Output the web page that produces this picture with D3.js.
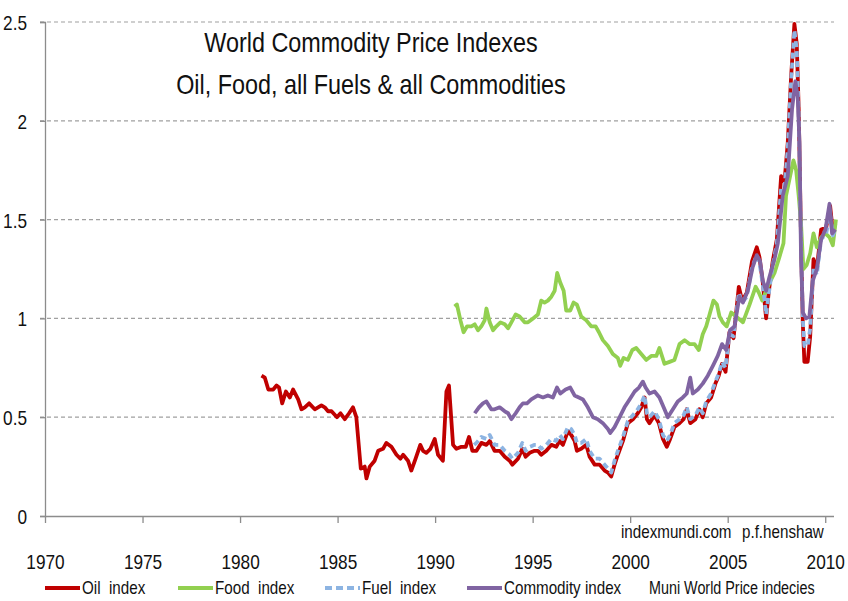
<!DOCTYPE html>
<html>
<head>
<meta charset="utf-8">
<script src="https://cdn.jsdelivr.net/npm/d3@7"></script>
<style>
  body { margin: 0; background: #fff; }
  svg { display: block; }
  text { font-family: "Liberation Sans", Arial, sans-serif; fill: #111; white-space: pre; }
</style>
</head>
<body>
<svg width="848" height="601"></svg>
<script>
// series: [year, index]
var oil_data = [
  [1981.1,0.71],[1981.27,0.70],[1981.45,0.64],[1981.7,0.64],[1981.87,0.66],[1982.0,0.65],[1982.16,0.57],[1982.35,0.63],
  [1982.55,0.60],[1982.72,0.64],[1982.98,0.59],[1983.15,0.54],[1983.32,0.55],[1983.54,0.57],[1983.83,0.54],[1984.17,0.56],
  [1984.34,0.55],[1984.51,0.53],[1984.69,0.53],[1984.97,0.50],[1985.15,0.52],[1985.37,0.49],[1985.59,0.52],[1985.79,0.55],
  [1985.96,0.50],[1986.19,0.24],[1986.39,0.25],[1986.48,0.19],[1986.65,0.25],[1986.9,0.28],[1987.08,0.33],[1987.33,0.34],
  [1987.5,0.37],[1987.76,0.35],[1988.02,0.31],[1988.22,0.29],[1988.36,0.31],[1988.61,0.28],[1988.78,0.23],[1989.0,0.29],
  [1989.24,0.36],[1989.38,0.33],[1989.55,0.32],[1989.76,0.34],[1989.98,0.39],[1990.15,0.31],[1990.4,0.28],[1990.58,0.63],
  [1990.71,0.66],[1990.92,0.36],[1991.09,0.34],[1991.35,0.35],[1991.57,0.35],[1991.74,0.40],[1991.91,0.33],[1992.12,0.33],
  [1992.37,0.37],[1992.63,0.36],[1992.8,0.38],[1993.05,0.33],[1993.31,0.33],[1993.57,0.30],[1993.82,0.28],[1993.96,0.26],
  [1994.25,0.29],[1994.47,0.34],[1994.64,0.30],[1994.85,0.32],[1995.1,0.33],[1995.27,0.33],[1995.44,0.31],[1995.7,0.33],
  [1995.96,0.36],[1996.21,0.35],[1996.38,0.38],[1996.55,0.36],[1996.81,0.43],[1996.98,0.41],[1997.15,0.38],[1997.27,0.33],
  [1997.49,0.34],[1997.75,0.36],[1997.92,0.30],[1998.18,0.26],[1998.43,0.26],[1998.69,0.23],[1998.86,0.22],[1999.03,0.20],
  [1999.2,0.26],[1999.37,0.31],[1999.63,0.38],[1999.88,0.47],[2000.14,0.49],[2000.39,0.52],[2000.57,0.55],[2000.74,0.60],
  [2000.86,0.49],[2000.99,0.47],[2001.25,0.51],[2001.47,0.47],[2001.68,0.39],[2001.88,0.35],[2002.05,0.39],[2002.27,0.45],
  [2002.53,0.47],[2002.74,0.49],[2002.9,0.54],[2003.08,0.47],[2003.35,0.49],[2003.55,0.54],[2003.72,0.50],[2003.9,0.57],
  [2004.15,0.60],[2004.37,0.67],[2004.54,0.71],[2004.71,0.77],[2004.89,0.73],[2005.09,0.93],[2005.3,0.90],[2005.57,1.16],
  [2005.74,1.09],[2005.98,1.13],[2006.25,1.29],[2006.49,1.36],[2006.63,1.31],[2006.8,1.18],[2006.97,1.00],[2007.1,1.13],
  [2007.31,1.29],[2007.52,1.40],[2007.74,1.72],[2007.91,1.69],[2008.08,1.89],[2008.25,2.22],[2008.42,2.49],[2008.54,2.39],
  [2008.64,2.06],[2008.76,1.40],[2008.85,0.98],[2008.93,0.78],[2009.1,0.78],[2009.23,0.91],[2009.4,1.30],[2009.57,1.25],
  [2009.79,1.45],[2010.05,1.46],[2010.25,1.57],[2010.39,1.44],[2010.52,1.48]
];

var food_data = [
  [1991.0,1.06],[1991.12,1.07],[1991.3,0.99],[1991.46,0.93],[1991.64,0.96],[1991.86,0.96],[1992.03,0.97],[1992.2,0.94],
  [1992.37,0.96],[1992.54,0.99],[1992.63,1.05],[1992.8,0.98],[1992.97,0.94],[1993.14,0.96],[1993.35,0.98],[1993.57,0.97],
  [1993.74,0.95],[1993.91,0.98],[1994.13,1.02],[1994.33,1.01],[1994.59,0.98],[1994.76,0.98],[1995.02,1.00],[1995.27,1.02],
  [1995.44,1.09],[1995.61,1.08],[1995.78,1.09],[1995.96,1.11],[1996.13,1.14],[1996.26,1.23],[1996.42,1.18],[1996.59,1.14],
  [1996.72,1.04],[1996.93,1.04],[1997.1,1.08],[1997.27,1.07],[1997.49,1.01],[1997.75,0.99],[1998.0,0.96],[1998.23,0.96],
  [1998.4,0.93],[1998.6,0.89],[1998.86,0.86],[1999.11,0.82],[1999.37,0.80],[1999.49,0.76],[1999.66,0.80],[1999.88,0.79],
  [2000.11,0.84],[2000.31,0.85],[2000.57,0.82],[2000.83,0.79],[2001.08,0.81],[2001.34,0.81],[2001.5,0.85],[2001.76,0.77],
  [2002.02,0.78],[2002.27,0.79],[2002.53,0.87],[2002.79,0.89],[2003.04,0.87],[2003.3,0.87],[2003.52,0.84],[2003.72,0.92],
  [2003.9,0.96],[2004.07,1.02],[2004.27,1.09],[2004.45,1.07],[2004.58,1.01],[2004.75,0.98],[2004.95,0.96],[2005.18,1.03],
  [2005.43,1.01],[2005.78,0.98],[2006.12,1.07],[2006.43,1.16],[2006.6,1.13],[2006.77,1.09],[2006.97,1.14],[2007.14,1.18],
  [2007.4,1.23],[2007.65,1.31],[2007.86,1.38],[2007.99,1.62],[2008.2,1.72],[2008.37,1.80],[2008.51,1.75],[2008.64,1.62],
  [2008.76,1.48],[2008.88,1.25],[2009.05,1.27],[2009.23,1.33],[2009.4,1.43],[2009.57,1.36],[2009.79,1.41],[2010.01,1.43],
  [2010.22,1.41],[2010.39,1.37],[2010.55,1.50]
];

var fuel_data = [
  [1992.0,0.36],[1992.12,0.37],[1992.37,0.40],[1992.63,0.39],[1992.8,0.41],[1993.05,0.36],[1993.31,0.36],[1993.57,0.33],
  [1993.82,0.31],[1993.96,0.29],[1994.25,0.32],[1994.47,0.37],[1994.64,0.33],[1994.85,0.35],[1995.1,0.36],[1995.27,0.36],
  [1995.44,0.34],[1995.7,0.36],[1995.96,0.39],[1996.21,0.38],[1996.38,0.41],[1996.55,0.39],[1996.81,0.45],[1996.98,0.44],
  [1997.15,0.41],[1997.27,0.37],[1997.49,0.37],[1997.75,0.39],[1997.92,0.33],[1998.18,0.29],[1998.43,0.29],[1998.69,0.26],
  [1998.86,0.24],[1999.03,0.22],[1999.2,0.28],[1999.37,0.33],[1999.63,0.40],[1999.88,0.48],[2000.14,0.51],[2000.39,0.54],
  [2000.57,0.57],[2000.74,0.61],[2000.86,0.52],[2000.99,0.50],[2001.25,0.53],[2001.47,0.49],[2001.68,0.41],[2001.88,0.38],
  [2002.05,0.41],[2002.27,0.47],[2002.53,0.49],[2002.74,0.51],[2002.9,0.55],[2003.08,0.49],[2003.35,0.51],[2003.55,0.55],
  [2003.72,0.52],[2003.9,0.58],[2004.15,0.62],[2004.37,0.68],[2004.54,0.72],[2004.71,0.78],[2004.89,0.75],[2005.09,0.92],
  [2005.3,0.91],[2005.57,1.13],[2005.74,1.08],[2005.98,1.11],[2006.25,1.26],[2006.49,1.32],[2006.63,1.28],[2006.8,1.17],
  [2006.97,1.02],[2007.1,1.12],[2007.31,1.27],[2007.52,1.38],[2007.74,1.66],[2007.91,1.66],[2008.08,1.86],[2008.25,2.20],
  [2008.42,2.46],[2008.54,2.36],[2008.64,2.03],[2008.76,1.38],[2008.85,1.00],[2008.93,0.86],[2009.1,0.86],[2009.23,0.95],
  [2009.4,1.26],[2009.57,1.22],[2009.79,1.40],[2010.05,1.43],[2010.25,1.53],[2010.39,1.42],[2010.52,1.45]
];

var commodity_data = [
  [1992.03,0.52],[1992.25,0.55],[1992.45,0.57],[1992.63,0.58],[1992.88,0.54],[1993.05,0.54],[1993.31,0.55],[1993.57,0.53],
  [1993.74,0.52],[1993.91,0.49],[1994.13,0.52],[1994.33,0.55],[1994.5,0.57],[1994.71,0.57],[1994.93,0.59],[1995.27,0.61],
  [1995.53,0.60],[1995.78,0.61],[1996.04,0.60],[1996.25,0.65],[1996.42,0.62],[1996.69,0.64],[1996.93,0.65],[1997.15,0.61],
  [1997.37,0.60],[1997.58,0.59],[1997.83,0.55],[1998.09,0.50],[1998.34,0.49],[1998.6,0.47],[1998.86,0.44],[1998.98,0.42],
  [1999.2,0.45],[1999.46,0.50],[1999.71,0.55],[1999.97,0.59],[2000.23,0.63],[2000.45,0.65],[2000.65,0.68],[2000.79,0.65],
  [2000.99,0.62],[2001.25,0.63],[2001.5,0.60],[2001.76,0.54],[2001.93,0.50],[2002.19,0.54],[2002.44,0.58],[2002.7,0.60],
  [2002.9,0.62],[2003.08,0.70],[2003.21,0.62],[2003.47,0.64],[2003.72,0.67],[2003.98,0.71],[2004.24,0.76],[2004.49,0.81],
  [2004.71,0.87],[2004.92,0.84],[2005.12,0.94],[2005.35,0.96],[2005.6,1.11],[2005.78,1.08],[2006.03,1.14],[2006.28,1.26],
  [2006.49,1.32],[2006.66,1.29],[2006.8,1.19],[2006.97,1.14],[2007.14,1.21],[2007.4,1.30],[2007.57,1.38],[2007.82,1.62],
  [2008.08,1.72],[2008.3,2.06],[2008.47,2.20],[2008.59,2.12],[2008.68,1.89],[2008.76,1.31],[2008.85,1.03],[2009.02,1.00],
  [2009.19,1.01],[2009.36,1.19],[2009.57,1.25],[2009.79,1.40],[2010.01,1.45],[2010.22,1.58],[2010.35,1.43],[2010.52,1.45]
];

var year_ticks = [1970, 1975, 1980, 1985, 1990, 1995, 2000, 2005, 2010];
var value_ticks = [0, 0.5, 1, 1.5, 2, 2.5];
var legend_names = ["Oil  index", "Food  index", "Fuel  index", "Commodity index"];
var title_lines = ["World Commodity Price Indexes", "Oil, Food, all Fuels & all Commodities"];

var svg = d3.select("svg");

var x = d3.scaleLinear().domain([1970, 2010.45]).range([45, 834]);
var y = d3.scaleLinear().domain([0, 2.5]).range([516, 22]);

// dashed gridlines
svg.append("g")
  .selectAll("line")
  .data(value_ticks.filter(d => d > 0))
  .join("line")
  .attr("x1", 40).attr("x2", 834)
  .attr("y1", d => y(d)).attr("y2", d => y(d))
  .attr("stroke", "#a0a0a0")
  .attr("stroke-width", 1.2)
  .attr("stroke-dasharray", "4,3");

// axes
var yAxis = svg.append("g")
  .attr("transform", "translate(45,0)")
  .call(d3.axisLeft(y).tickValues(value_ticks).tickSize(5).tickPadding(13).tickFormat(d3.format("")));
var xAxis = svg.append("g")
  .attr("transform", "translate(0,516)")
  .call(d3.axisBottom(x).tickValues(year_ticks).tickSize(7).tickPadding(31).tickFormat(d3.format("d")));

[yAxis, xAxis].forEach(function(a) {
  a.select(".domain").attr("stroke", "#8c8c8c").attr("stroke-width", 1.3);
  a.selectAll(".tick line").attr("stroke", "#8c8c8c").attr("stroke-width", 1.3);
  a.selectAll("text").attr("font-size", 21).attr("font-family", null).attr("fill", "#111");
});
yAxis.selectAll("text").attr("dy", "0.36em");
xAxis.select(".domain").attr("d", "M45,0.5H834");

// the lines
var line = d3.line().x(d => x(d[0])).y(d => y(d[1]));

var series = [
  { data: oil_data, color: "#c00000", dash: null },
  { data: food_data, color: "#92d050", dash: null },
  { data: fuel_data, color: "#8db4e2", dash: "6,4" },
  { data: commodity_data, color: "#8064a2", dash: null }
];

svg.append("g")
  .selectAll("path")
  .data(series)
  .join("path")
  .attr("d", d => line(d.data))
  .attr("fill", "none")
  .attr("stroke", d => d.color)
  .attr("stroke-width", 3.8)
  .attr("stroke-linejoin", "round")
  .attr("stroke-dasharray", d => d.dash);

// title
svg.append("g")
  .selectAll("text")
  .data(title_lines)
  .join("text")
  .attr("x", 371)
  .attr("y", (d, i) => 52 + i * 42)
  .attr("text-anchor", "middle")
  .attr("font-size", 28.5)
  .text(d => d);

// source notes
svg.append("text").attr("x", 621).attr("y", 538).attr("font-size", 18.5).text("indexmundi.com");
svg.append("text").attr("x", 742).attr("y", 538).attr("font-size", 18.5).text("p.f.henshaw");

// legend
var legend_x = [45, 178, 325, 467];
var legend = svg.append("g")
  .selectAll("g")
  .data(series)
  .join("g")
  .attr("transform", (d, i) => `translate(${legend_x[i]},588)`);

legend.append("line")
  .attr("x1", 0).attr("x2", 35)
  .attr("stroke", d => d.color)
  .attr("stroke-width", 3.8)
  .attr("stroke-dasharray", d => d.dash ? "7,4" : null);

legend.append("text")
  .attr("x", 37)
  .attr("y", 6)
  .attr("font-size", 18.5)
  .text((d, i) => legend_names[i]);

svg.append("text").attr("x", 649).attr("y", 594).attr("font-size", 17.5).text("Muni World Price indecies");

// the original used a narrow font: squeeze every label horizontally
svg.selectAll("text").each(function() {
  var w = this.getComputedTextLength();
  d3.select(this).attr("textLength", w * 0.82).attr("lengthAdjust", "spacingAndGlyphs");
});
</script>
</body>
</html>
